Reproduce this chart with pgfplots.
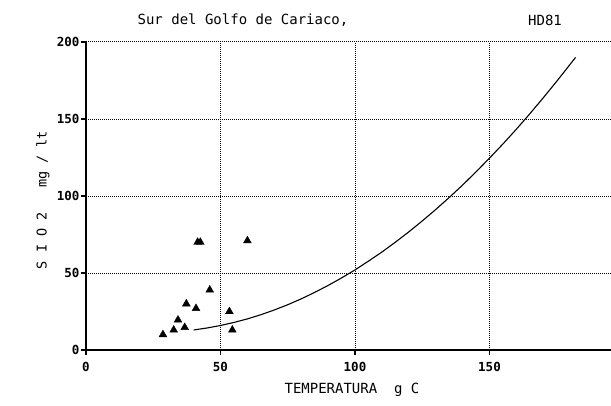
\documentclass[border=0pt]{standalone}
\usepackage{pgfplots}
\pgfplotsset{compat=1.18}
\usepackage{fontspec}
\setmainfont{DejaVu Sans Mono}

\begin{document}
\begin{tikzpicture}[x=1pt,y=1pt]
\begin{axis}[
    at={(86pt,55pt)},
    anchor=south west,
    scale only axis,
    width=538pt,
    height=308pt,
    xmin=0, xmax=200,
    ymin=0, ymax=200,
    xtick={0,50,100,150,200},
    ytick={0,50,100,150,200},
    axis lines*=left,
    axis line style={line width=1.2pt},
    tick align=outside,
    major tick length=5pt,
    tick style={line width=1.1pt, black},
    grid=major,
    grid style={line width=1pt, densely dotted, black},
    ticklabel style={font=\fontsize{12.5}{12.5}\selectfont\bfseries},
    /pgf/number format/assume math mode=true,
    xticklabel style={yshift=-4pt},
    yticklabel style={xshift=2pt},
    clip=false,
]
% observaciones
\addplot[only marks, mark=triangle*, mark size=4.5pt, black] coordinates {
    (41.5,70) (42.5,70) (60,71) (46,39) (37.3,30) (40.9,27)
    (53.3,25) (54.4,13) (34.2,19.5) (32.6,13) (36.7,14.7) (28.6,10)
};
% curva ajustada
\addplot[line width=1.1pt, black] coordinates {
    (40,13) (45,14.3) (50,15.9) (55,17.9) (60,20.2) (65,22.9) (70,26)
    (75,29.4) (80,33.2) (85,37.4) (90,41.9) (95,46.8) (100,52)
    (105,57.7) (110,63.6) (115,70) (120,76.7) (125,83.8) (130,91.2)
    (135,99) (140,107.1) (145,115.7) (150,124.6) (155,133.8)
    (160,143.4) (165,153.4) (170,163.8) (175,174.5) (182,190)
};
\end{axis}
\node[font=\fontsize{14}{14}\selectfont] at (243pt,385pt) {Sur del Golfo de Cariaco,};
\node[font=\fontsize{14}{14}\selectfont] at (545pt,385pt) {HD81};
\node[font=\fontsize{13.5}{14}\selectfont, rotate=90] at (43pt,205pt) {S I O 2\ \ \ mg / lt};
\node[font=\fontsize{14}{14}\selectfont] at (352pt,15pt) {TEMPERATURA\ \ g C};
\pgfresetboundingbox
\path[use as bounding box] (0,0) rectangle (611pt,405pt);
\end{tikzpicture}
\end{document}
